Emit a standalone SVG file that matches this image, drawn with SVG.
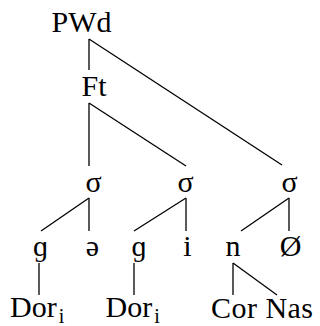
<svg xmlns="http://www.w3.org/2000/svg" width="320" height="326" viewBox="0 0 320 326">
<style>
text{font-family:"Liberation Serif","Times New Roman",serif;font-size:30px;fill:#000}
.m{text-anchor:middle}
.sub{font-size:20px}
#edges line{stroke:#000;stroke-width:1.3}
</style>
<rect width="320" height="326" fill="#fff"/>
<g id="edges">
<line x1="89" y1="39" x2="89" y2="70"/>
<line x1="89" y1="39" x2="282" y2="165"/>
<line x1="89" y1="103" x2="89" y2="166"/>
<line x1="89" y1="103" x2="186" y2="166"/>
<line x1="89" y1="198" x2="89" y2="231"/>
<line x1="89" y1="198" x2="41" y2="231"/>
<line x1="186" y1="198" x2="186" y2="231"/>
<line x1="186" y1="198" x2="134" y2="231"/>
<line x1="289" y1="198" x2="289" y2="231"/>
<line x1="289" y1="198" x2="241" y2="231"/>
<line x1="39" y1="263" x2="39" y2="295"/>
<line x1="134" y1="263" x2="134" y2="295"/>
<line x1="233" y1="263" x2="233" y2="295"/>
<line x1="233" y1="263" x2="277" y2="295"/>
</g>
<g id="pwd"><text class="m" x="81.5" y="32">PWd</text></g>
<g id="ft"><text class="m" x="94" y="96">Ft</text></g>
<g id="s1"><text class="m" x="93.5" y="192">σ</text></g>
<g id="s2"><text class="m" x="185.5" y="192">σ</text></g>
<g id="s3"><text class="m" x="289.5" y="192">σ</text></g>
<g id="g1"><text class="m" x="40.5" y="256">ɡ</text></g>
<g id="schwa"><text class="m" x="92.5" y="256">ə</text></g>
<g id="g2"><text class="m" x="139" y="256">ɡ</text></g>
<g id="i"><text class="m" x="187.5" y="256">i</text></g>
<g id="n"><text class="m" x="233" y="256">n</text></g>
<g id="null"><text class="m" x="290.5" y="256">Ø</text></g>
<g id="dor1"><text x="10" y="317">Dor<tspan class="sub" dx="2" dy="6">i</tspan></text></g>
<g id="dor2"><text x="105.5" y="317">Dor<tspan class="sub" dx="2" dy="6">i</tspan></text></g>
<g id="cornas"><text x="211" y="318" textLength="102" lengthAdjust="spacing">Cor Nas</text></g>
</svg>
